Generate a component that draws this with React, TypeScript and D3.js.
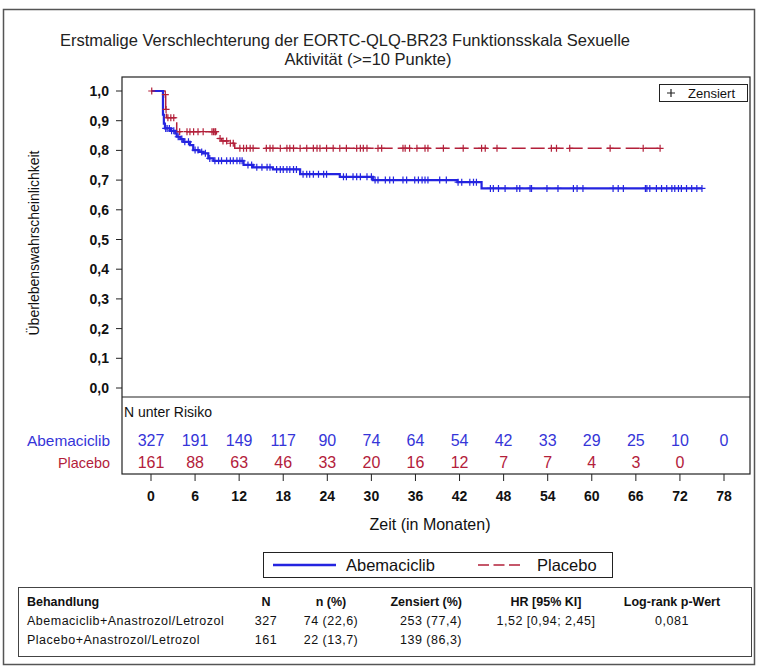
import React from 'react';
import * as d3 from 'd3';

// ---- Data ----
const timeTicks = [0, 6, 12, 18, 24, 30, 36, 42, 48, 54, 60, 66, 72, 78];
const yTicks = [0, 0.1, 0.2, 0.3, 0.4, 0.5, 0.6, 0.7, 0.8, 0.9, 1.0];
const yTickLabels = ['0,0', '0,1', '0,2', '0,3', '0,4', '0,5', '0,6', '0,7', '0,8', '0,9', '1,0'];

// Kaplan-Meier step points: [month, survival after step]
const abemaSteps: [number, number][] = [
  [1.63, 0.92], [1.75, 0.89], [1.9, 0.874], [2.6, 0.866], [3.3, 0.857], [3.5, 0.846],
  [4.0, 0.838], [4.4, 0.829], [5.3, 0.818], [5.75, 0.801], [6.5, 0.795], [7.1, 0.79],
  [7.8, 0.773], [8.5, 0.765], [12.6, 0.751], [13.9, 0.743], [16.6, 0.736], [20.3, 0.72],
  [25.7, 0.711], [30.2, 0.70], [41.7, 0.693], [45.0, 0.672],
];
const abemaEnd = 75.0;
const abemaCensor = [
  2.0, 2.2, 2.5, 2.8, 3.1, 3.7, 4.2, 4.6, 5.1, 6.0, 6.4, 6.9, 7.4, 8.0, 8.7, 9.2, 9.6, 10.3,
  10.8, 11.2, 11.7, 12.1, 12.4, 13.2, 13.7, 14.4, 15.1, 15.8, 16.2, 17.1, 17.6, 18.0, 18.5,
  18.9, 19.4, 19.8, 20.7, 21.2, 21.6, 22.1, 22.8, 23.5, 23.9, 26.2, 26.6, 27.5, 28.0, 28.5,
  29.4, 30.0, 30.5, 30.9, 31.9, 32.5, 33.0, 34.3, 34.8, 35.9, 36.4, 36.9, 37.3, 37.7, 39.3,
  40.2, 41.8, 42.3, 43.4, 43.9, 44.3, 46.2, 46.6, 47.3, 48.2, 49.8, 50.2, 51.6, 51.8, 53.9,
  55.4, 57.5, 58.0, 58.8, 62.9, 63.6, 64.3, 67.3, 67.5, 67.9, 68.8, 69.5, 70.2, 70.9, 71.3,
  71.8, 72.2, 72.9, 73.6, 74.3, 75.0,
];

const placeboSteps: [number, number][] = [
  [1.9, 0.988], [2.0, 0.938], [2.1, 0.91], [3.5, 0.863], [8.9, 0.84], [9.6, 0.832],
  [10.5, 0.824], [11.4, 0.807],
];
const placeboEnd = 69.3;
const placeboCensor = [
  0.1, 1.95, 2.05, 2.3, 2.7, 3.1, 3.9, 4.9, 5.3, 5.8, 6.4, 7.1, 8.3, 8.5, 8.7, 8.8, 9.4, 9.8,
  10.3, 10.8, 11.2, 12.1, 12.6, 13.0, 13.5, 13.9, 15.7, 16.2, 16.6, 17.6, 18.5, 18.9, 19.4,
  20.3, 21.2, 22.1, 22.6, 23.0, 23.9, 24.8, 25.7, 26.6, 28.0, 28.5, 28.9, 29.4, 30.9, 31.4,
  34.3, 34.6, 35.2, 36.2, 37.3, 37.7, 39.8, 42.5, 45.0, 45.5, 47.1, 54.5, 55.2, 57.0, 62.5,
  67.0, 69.3,
];

const abemaAtRisk = [327, 191, 149, 117, 90, 74, 64, 54, 42, 33, 29, 25, 10, 0];
const placeboAtRisk = [161, 88, 63, 46, 33, 20, 16, 12, 7, 7, 4, 3, 0];

const tableHeader = ['Behandlung', 'N', 'n (%)', 'Zensiert (%)', 'HR [95% KI]', 'Log-rank p-Wert'];
const tableRow1 = ['Abemaciclib+Anastrozol/Letrozol', '327', '74 (22,6)', '253 (77,4)', '1,52 [0,94; 2,45]', '0,081'];
const tableRow2 = ['Placebo+Anastrozol/Letrozol', '161', '22 (13,7)', '139 (86,3)', '', ''];

// ---- Styles ----
const BLUE = '#2424E0';
const BLUE_TXT = '#3535D8';
const RED = '#B3203A';
const FONT = '"Liberation Sans", Arial, sans-serif';

const x = d3.scaleLinear().domain([0, 78]).range([151, 724]);
const y = d3.scaleLinear().domain([0, 1]).range([388, 91]);

function survAt(steps: [number, number][], t: number) {
  let s = 1;
  for (const [tt, v] of steps) if (tt <= t) s = v;
  return s;
}

function curvePath(steps: [number, number][], end: number) {
  const pts: [number, number][] = [[0, 1], ...steps, [end, steps[steps.length - 1][1]]];
  const line = d3.line<[number, number]>()
    .x(d => x(d[0]))
    .y(d => y(d[1]))
    .curve(d3.curveStepAfter);
  return line(pts) || '';
}

function Censor({ t, steps, color }: { t: number; steps: [number, number][]; color: string }) {
  const cx = x(t);
  const cy = y(survAt(steps, t));
  return (
    <path d={`M${cx - 3.5},${cy}H${cx + 3.5}M${cx},${cy - 3.5}V${cy + 3.5}`} stroke={color} strokeWidth={1.2} fill="none" />
  );
}

// column anchor positions and alignment for the summary table
const colX = [27, 266, 331, 462, 546, 672];
const colAnchor: ('start' | 'middle' | 'end')[] = ['start', 'middle', 'middle', 'end', 'middle', 'middle'];

export default function App() {
  return (
    <svg width={757} height={668} style={{ position: 'absolute', left: 0, top: 0, background: '#fff' }}
      fontFamily={FONT}>
      <rect x={0} y={0} width={757} height={668} fill="#fff" />
      {/* outer frame */}
      <rect x={3.5} y={9.5} width={751} height={655} fill="none" stroke="#555" strokeWidth={1.5} />

      {/* title */}
      <text x={345} y={46} textAnchor="middle" fontSize={16.5} fill="#222">
        Erstmalige Verschlechterung der EORTC-QLQ-BR23 Funktionsskala Sexuelle
      </text>
      <text x={368} y={65} textAnchor="middle" fontSize={16.5} fill="#222">
        Aktivität (&gt;=10 Punkte)
      </text>

      {/* plot frame */}
      <rect x={122} y={77} width={628} height={397} fill="none" stroke="#222" strokeWidth={1.2} />
      <line x1={122} x2={750} y1={397} y2={397} stroke="#222" strokeWidth={1.2} />

      {/* y axis */}
      {yTicks.map((v, i) => (
        <g key={v}>
          <line x1={116} x2={122} y1={y(v)} y2={y(v)} stroke="#222" />
          <text x={109} y={y(v) + 5} textAnchor="end" fontSize={14} fontWeight="bold" fill="#111">
            {yTickLabels[i]}
          </text>
        </g>
      ))}
      <text transform="translate(39,243) rotate(-90)" textAnchor="middle" fontSize={14} fill="#111"
        textLength={185} lengthAdjust="spacingAndGlyphs">
        Überlebenswahrscheinlichkeit
      </text>

      {/* curves */}
      <path d={curvePath(placeboSteps, placeboEnd)} fill="none" stroke={RED} strokeWidth={1.5} strokeDasharray="14 5" />
      <path d={curvePath(abemaSteps, abemaEnd)} fill="none" stroke={BLUE} strokeWidth={2.2} />
      {placeboCensor.map((t, i) => <Censor key={'p' + i} t={t} steps={placeboSteps} color={RED} />)}
      {abemaCensor.map((t, i) => <Censor key={'a' + i} t={t} steps={abemaSteps} color={BLUE} />)}

      {/* Zensiert legend */}
      <rect x={659.5} y={84.5} width={88} height={17} fill="#fff" stroke="#222" />
      <path d="M667,93H675M671,89V97" stroke="#222" strokeWidth={1.2} />
      <text x={688} y={97.5} fontSize={12.5} fill="#111" textLength={47} lengthAdjust="spacingAndGlyphs">Zensiert</text>

      {/* risk table */}
      <text x={124} y={417} fontSize={14} fill="#111">N unter Risiko</text>
      <text x={27} y={446} fontSize={15} fill={BLUE_TXT} textLength={83} lengthAdjust="spacingAndGlyphs">Abemaciclib</text>
      <text x={58} y={468} fontSize={15} fill={RED} textLength={52} lengthAdjust="spacingAndGlyphs">Placebo</text>
      {abemaAtRisk.map((n, i) => (
        <text key={'ar' + i} x={x(timeTicks[i])} y={446} textAnchor="middle" fontSize={16} fill={BLUE_TXT}>{n}</text>
      ))}
      {placeboAtRisk.map((n, i) => (
        <text key={'pr' + i} x={x(timeTicks[i])} y={468} textAnchor="middle" fontSize={16} fill={RED}>{n}</text>
      ))}

      {/* x axis */}
      {timeTicks.map(t => (
        <g key={t}>
          <line x1={x(t)} x2={x(t)} y1={474} y2={481} stroke="#222" />
          <text x={x(t)} y={501} textAnchor="middle" fontSize={14} fontWeight="bold" fill="#111">{t}</text>
        </g>
      ))}
      <text x={430} y={530} textAnchor="middle" fontSize={16} fill="#111">Zeit (in Monaten)</text>

      {/* bottom legend */}
      <rect x={263.5} y={552.5} width={349} height={25} fill="#fff" stroke="#222" />
      <line x1={273} x2={336} y1={565} y2={565} stroke={BLUE} strokeWidth={2.5} />
      <text x={346} y={571} fontSize={16.5} fill="#111">Abemaciclib</text>
      <line x1={478} x2={520} y1={565} y2={565} stroke={RED} strokeWidth={1.5} strokeDasharray="11 4.5" />
      <text x={537} y={571} fontSize={16.5} fill="#111">Placebo</text>

      {/* summary table */}
      <rect x={18.5} y={587.5} width={733} height={69} fill="none" stroke="#444" />
      {tableHeader.map((h, i) => (
        <text key={'h' + i} x={colX[i]} y={606} textAnchor={colAnchor[i]} fontSize={12.5} fontWeight="bold" fill="#111">{h}</text>
      ))}
      {tableRow1.map((h, i) => (
        <text key={'r1' + i} x={colX[i]} y={624.5} textAnchor={colAnchor[i]} fontSize={12.5} letterSpacing={0.5} fill="#111">{h}</text>
      ))}
      {tableRow2.map((h, i) => (
        <text key={'r2' + i} x={colX[i]} y={644} textAnchor={colAnchor[i]} fontSize={12.5} letterSpacing={0.5} fill="#111">{h}</text>
      ))}
    </svg>
  );
}
